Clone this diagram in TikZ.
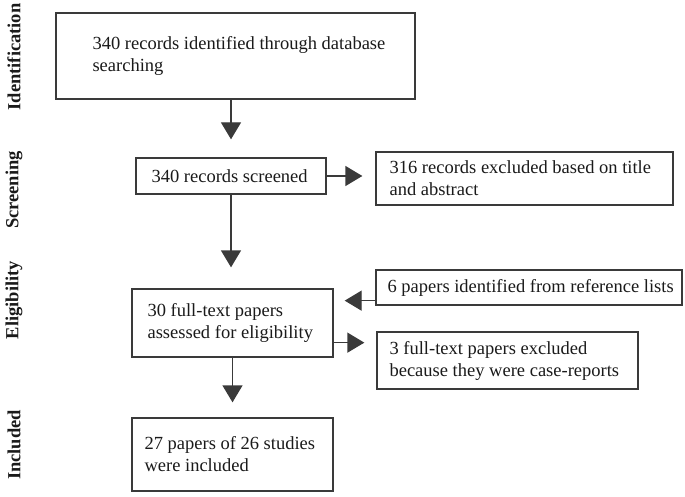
\documentclass[tikz,border=0pt]{standalone}
\usepackage{fontspec}
\setmainfont{Liberation Serif}
\usetikzlibrary{arrows.meta,calc}
\definecolor{linec}{HTML}{3A3A3A}
\definecolor{textc}{HTML}{1A1A1A}
\begin{document}
\begin{tikzpicture}[x=1pt,y=-1pt,
  box/.style={draw=linec, line width=1.3pt, inner sep=0pt, fill=white},
  txt/.style={anchor=west, align=left, inner sep=0pt, text=textc, font=\fontsize{18.5}{22}\selectfont},
  arr/.style={draw=linec, line width=1.3pt, -{Triangle[length=17pt,width=20pt]}},
  stage/.style={rotate=90, inner sep=0pt, text=textc, font=\fontsize{18.5}{22}\selectfont\bfseries}]
\useasboundingbox (0,0) rectangle (685,497);

% boxes
\node[box, minimum width=359pt, minimum height=86pt] (b1) at (235.5,56) {};
\node[box, minimum width=190pt, minimum height=36pt] (b2) at (231,176) {};
\node[box, minimum width=297pt, minimum height=53pt] (b3) at (524.5,178.5) {};
\node[box, minimum width=306pt, minimum height=35pt] (b4) at (529,287.5) {};
\node[box, minimum width=201pt, minimum height=68pt] (b5) at (232.5,323) {};
\node[box, minimum width=261pt, minimum height=57pt] (b6) at (507.5,360.5) {};
\node[box, minimum width=201pt, minimum height=73pt] (b7) at (232.5,454.5) {};

% texts
\node[txt] (t1) at ($(b1.west)+(37,0)$) {340 records identified through database\\searching};
\node[txt] (t2) at ($(b2.west)+(16,0)$) {340 records screened};
\node[txt] (t3) at ($(b3.west)+(14,0)$) {316 records excluded based on title\\and abstract};
\node[txt] (t4) at ($(b4.west)+(12,0)$) {6 papers identified from reference lists};
\node[txt] (t5) at ($(b5.west)+(16,0)$) {30 full-text papers\\assessed for eligibility};
\node[txt] (t6) at ($(b6.west)+(13,0)$) {3 full-text papers excluded\\because they were case-reports};
\node[txt] (t7) at ($(b7.west)+(13,0)$) {27 papers of 26 studies\\were included};

% stage labels
\node[stage] (s1) at (14,57) {Identification};
\node[stage] (s2) at (14,190) {Screening};
\node[stage] (s3) at (14,300) {Eligibility};
\node[stage] (s4) at (14,445) {Included};

% connectors
\coordinate (p4) at ($(b4.south west)+(0,-5)$);
\coordinate (p5) at ($(b5.south east)+(0,-15)$);
\draw[arr, shorten >=18pt] (b1.south -| b2.south) -- (b2.north);
\draw[arr, shorten >=13pt] (b2.east) -- (b3.west |- b2.east);
\draw[arr, shorten >=21pt] (b2.south) -- (b2.south |- b5.north);
\draw[arr, shorten >=11pt] (p4) -- (b5.east |- p4);
\draw[arr, shorten >=12pt] (p5) -- (b6.west |- p5);
\draw[arr, shorten >=15pt] (b5.south) -- (b7.north);
\end{tikzpicture}
\end{document}
